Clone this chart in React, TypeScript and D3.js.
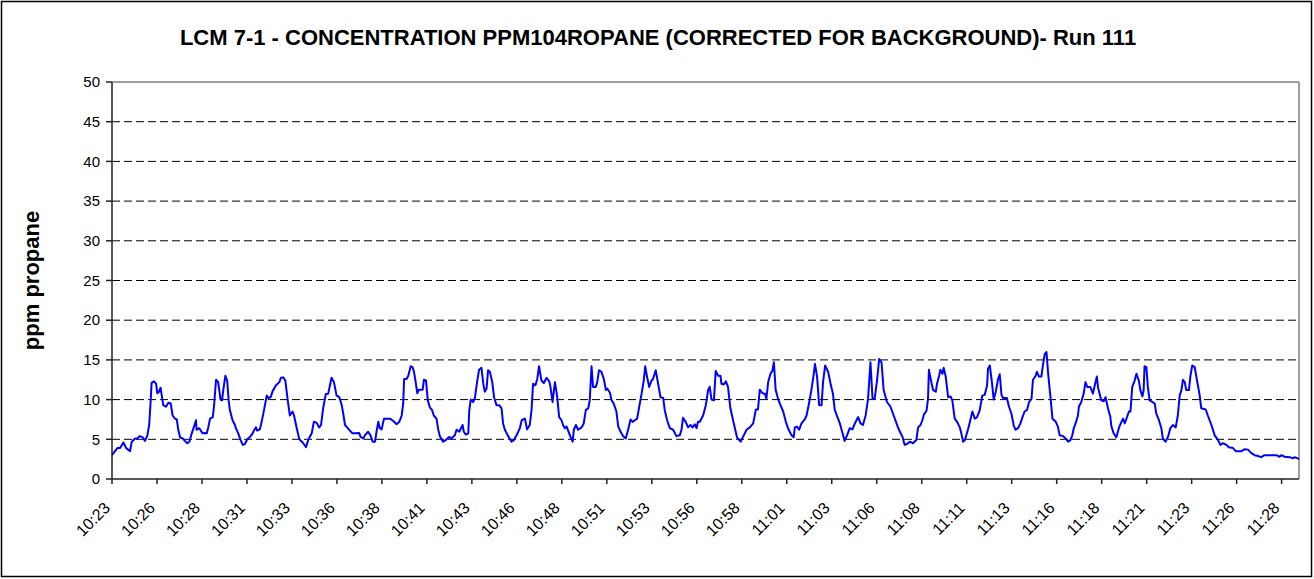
import { useEffect } from "react";
import * as d3 from "d3";

// x axis: one label every 15 samples (10 s sampling), first sample at 10:23:40
const timeLabels = [
  "10:23", "10:26", "10:28", "10:31", "10:33", "10:36", "10:38", "10:41", "10:43",
  "10:46", "10:48", "10:51", "10:53", "10:56", "10:58", "11:01", "11:03", "11:06",
  "11:08", "11:11", "11:13", "11:16", "11:18", "11:21", "11:23", "11:26", "11:28",
];
const labelStepSec = 150;

const yTicks = [0, 5, 10, 15, 20, 25, 30, 35, 40, 45, 50];

// [seconds after 10:23:40, ppm propane]
const readings: [number, number][] = [
  [0, 3.0], [10, 3.5], [18, 3.9], [27, 3.9], [38, 4.6], [47, 3.9], [60, 3.5], [66, 4.7], [77, 5.1], [84, 5.1],
  [93, 5.4], [102, 5.25], [110, 4.8], [118, 5.5], [124, 6.8], [129, 9.9], [132, 12.1], [140, 12.3], [147, 12.0], [151, 10.8],
  [157, 11.0], [162, 11.5], [166, 10.5], [171, 9.3], [180, 9.1], [188, 9.6], [196, 9.5], [202, 8.0], [210, 7.6], [216, 7.5],
  [221, 6.2], [227, 5.25], [236, 5.1], [243, 4.8], [251, 4.5], [258, 4.7], [266, 5.75], [277, 7.0], [280, 7.4], [282, 6.2],
  [291, 6.4], [296, 6.1], [302, 5.75], [310, 5.8], [316, 5.75], [321, 6.5], [327, 7.6], [336, 7.8], [340, 9.1], [347, 12.5],
  [354, 12.2], [362, 10.0], [367, 9.9], [371, 11.2], [378, 13.0], [384, 12.4], [389, 9.9], [393, 8.7], [402, 7.4], [410, 6.8],
  [413, 6.4], [421, 5.75], [429, 4.9], [436, 4.3], [443, 4.4], [451, 5.0], [460, 5.3], [469, 5.75], [473, 6.1], [480, 6.5],
  [484, 6.1], [493, 6.25], [499, 7.2], [507, 8.7], [516, 10.5], [521, 10.2], [529, 10.3], [536, 11.1], [547, 11.8], [558, 12.2],
  [563, 12.75], [571, 12.8], [578, 12.4], [586, 9.9], [593, 8.0], [602, 8.5], [607, 8.0], [616, 6.4], [624, 5.1],
  [627, 4.9], [636, 4.6], [647, 4.0], [654, 4.9], [666, 5.75], [673, 7.2], [682, 7.1], [691, 6.5], [697, 6.8], [704, 8.9],
  [713, 10.7], [721, 10.75], [732, 12.75], [740, 12.2], [749, 10.5], [758, 10.3], [766, 9.3], [771, 8.25], [777, 6.8], [784, 6.5],
  [793, 6.1], [802, 5.75], [813, 5.75], [824, 5.8], [829, 5.3], [838, 5.1], [843, 5.5], [854, 5.95], [862, 5.5], [869, 4.7],
  [877, 4.7], [882, 5.95], [888, 7.2], [893, 6.4], [899, 6.25], [907, 7.6], [918, 7.6], [927, 7.6], [938, 7.3], [949, 6.9],
  [958, 7.2], [966, 8.0], [971, 9.5], [974, 12.6], [982, 12.6], [988, 13.0], [996, 14.2], [1002, 14.1], [1007, 13.5], [1013, 12.1],
  [1018, 10.8], [1023, 11.25], [1036, 11.25], [1040, 12.5], [1047, 12.4], [1053, 9.9], [1060, 9.0], [1067, 8.7], [1073, 8.0], [1082, 7.6],
  [1088, 6.2], [1093, 5.4], [1104, 4.7], [1113, 4.9], [1124, 5.3], [1132, 5.1], [1143, 5.5], [1149, 6.2], [1158, 5.95], [1169, 6.8],
  [1173, 5.95], [1180, 5.6], [1188, 5.75], [1191, 8.5], [1196, 10.0], [1204, 9.7], [1210, 10.2], [1218, 12.4], [1224, 13.75], [1232, 14.0],
  [1238, 12.0], [1243, 11.0], [1249, 11.4], [1254, 13.7], [1260, 13.5], [1268, 12.2], [1274, 10.3], [1282, 9.3], [1291, 9.3],
  [1299, 8.9], [1304, 7.0], [1310, 6.2], [1321, 5.4], [1332, 4.7], [1340, 4.9], [1349, 5.5], [1360, 6.4], [1366, 7.4], [1377, 7.6],
  [1384, 6.25], [1393, 6.8], [1399, 8.7], [1404, 12.0], [1412, 11.8], [1418, 12.6], [1424, 14.2], [1432, 12.4], [1440, 12.1], [1449, 12.75],
  [1458, 12.3], [1462, 11.6], [1469, 9.7], [1477, 12.2], [1484, 10.5], [1491, 7.8], [1499, 7.4], [1504, 6.8], [1510, 6.4], [1516, 6.6],
  [1521, 6.1], [1529, 5.3], [1536, 4.7], [1540, 6.2], [1547, 6.8], [1554, 6.2], [1566, 6.5], [1573, 7.0], [1580, 8.7], [1588, 8.9],
  [1593, 9.9], [1599, 14.2], [1604, 11.6], [1613, 11.6], [1618, 12.2], [1624, 13.7], [1632, 13.5], [1640, 12.6], [1647, 11.2], [1651, 11.4],
  [1660, 10.9], [1666, 9.9], [1673, 9.5], [1682, 8.5], [1688, 6.6], [1696, 5.95], [1704, 5.4], [1713, 5.1], [1721, 6.2], [1729, 7.5],
  [1736, 7.2], [1743, 7.4], [1751, 7.6], [1758, 9.1], [1766, 10.75], [1773, 12.4], [1778, 14.2], [1784, 12.9], [1791, 11.6], [1799, 12.4],
  [1804, 12.6], [1813, 13.7], [1821, 12.0], [1829, 10.3], [1838, 10.2], [1843, 8.7], [1851, 7.4], [1860, 6.4], [1871, 6.2], [1882, 5.4],
  [1893, 5.5], [1899, 6.2], [1904, 7.7], [1913, 7.2], [1921, 6.5], [1929, 6.8], [1936, 6.5], [1943, 6.9], [1949, 6.4], [1954, 7.2],
  [1960, 7.2], [1971, 8.0], [1980, 9.3], [1988, 11.25], [1993, 11.6], [1999, 10.0], [2007, 9.9], [2013, 13.6], [2021, 13.0], [2029, 13.0],
  [2032, 12.0], [2040, 11.9], [2047, 12.3], [2054, 11.6], [2062, 8.9], [2071, 7.4], [2077, 6.4], [2084, 5.25], [2096, 4.7], [2104, 5.3],
  [2116, 6.2], [2127, 6.5], [2138, 7.0], [2147, 8.75], [2154, 8.75], [2160, 11.25], [2169, 10.8], [2177, 10.75], [2182, 10.1], [2188, 12.2],
  [2196, 13.3], [2202, 13.6], [2207, 14.7], [2213, 11.2], [2221, 10.1], [2229, 9.3], [2238, 8.5], [2247, 7.2], [2254, 6.4], [2266, 5.5],
  [2273, 5.25], [2277, 6.5], [2284, 6.6], [2291, 6.2], [2299, 7.0], [2310, 7.5], [2316, 8.0], [2324, 9.5], [2332, 11.2], [2340, 13.25],
  [2344, 14.5], [2351, 12.9], [2358, 9.3], [2366, 9.3], [2371, 12.2], [2378, 14.3], [2388, 13.5], [2396, 12.0], [2404, 10.75], [2410, 8.7],
  [2418, 7.9], [2427, 7.0], [2436, 5.75], [2443, 4.8], [2451, 5.5], [2460, 6.4], [2469, 6.25], [2477, 7.0], [2488, 7.8], [2496, 7.0],
  [2504, 6.8], [2513, 8.0], [2521, 10.1], [2529, 14.7], [2536, 10.1], [2543, 10.1], [2551, 12.4], [2558, 15.1], [2566, 14.7], [2573, 11.2],
  [2584, 9.7], [2596, 9.1], [2604, 8.25], [2616, 7.0], [2624, 6.2],
  [2636, 5.3], [2643, 4.3], [2651, 4.4], [2660, 4.7], [2671, 4.5], [2682, 4.9], [2688, 6.5], [2696, 6.8], [2702, 7.4], [2707, 8.1],
  [2716, 8.6], [2721, 10.1], [2724, 13.75], [2732, 12.2], [2738, 11.2], [2747, 11.0], [2751, 12.0], [2758, 13.0], [2762, 13.75], [2769, 13.25],
  [2773, 14.0], [2780, 12.9], [2788, 10.3], [2796, 10.4], [2802, 9.9], [2810, 7.6], [2818, 7.2], [2827, 6.5], [2832, 5.75], [2838, 4.7],
  [2844, 4.9], [2854, 6.2], [2862, 7.4], [2869, 8.5], [2877, 7.6], [2884, 7.75], [2893, 8.6], [2902, 10.5], [2910, 10.6], [2918, 11.8],
  [2921, 13.9], [2927, 14.3], [2934, 12.2], [2940, 10.0], [2947, 11.0], [2954, 12.5], [2960, 13.2], [2966, 10.6], [2971, 10.2], [2984, 10.2],
  [2991, 9.1], [2999, 8.25], [3007, 6.7], [3013, 6.2], [3021, 6.4], [3029, 7.0], [3036, 7.8], [3043, 8.5], [3051, 8.7], [3058, 9.7],
  [3066, 10.1], [3071, 12.5], [3080, 13.0], [3084, 13.5], [3091, 12.9], [3099, 12.9], [3104, 14.3], [3110, 15.7], [3116, 16.0], [3121, 13.5],
  [3129, 10.4], [3136, 7.6], [3147, 7.2], [3154, 6.6], [3160, 5.5], [3171, 5.4], [3180, 5.1], [3188, 4.7], [3196, 4.9], [3202, 5.5],
  [3207, 6.4], [3213, 7.0], [3221, 8.0], [3224, 9.1], [3232, 9.7], [3240, 10.75], [3246, 12.2], [3252, 11.6], [3262, 11.6], [3271, 10.75],
  [3277, 11.8], [3284, 12.9], [3288, 11.5],
  [3299, 9.9], [3307, 9.8], [3313, 10.3], [3321, 8.9], [3329, 7.8], [3332, 6.7], [3340, 5.75], [3349, 5.25], [3358, 6.5], [3366, 7.2],
  [3371, 7.6], [3377, 7.0], [3384, 7.75], [3391, 8.5], [3396, 8.5], [3402, 11.6], [3410, 12.4], [3416, 13.25], [3424, 12.4], [3429, 11.2],
  [3436, 10.4], [3440, 11.2], [3443, 14.2], [3449, 14.1], [3454, 11.6], [3460, 9.9], [3469, 9.7], [3477, 9.5], [3482, 8.25], [3491, 7.4],
  [3499, 6.4], [3504, 5.1], [3513, 4.7], [3521, 5.3], [3529, 6.4], [3538, 6.8], [3547, 6.5], [3554, 8.0], [3560, 10.5], [3566, 11.2],
  [3571, 12.5], [3577, 12.2], [3582, 11.2], [3591, 11.2], [3596, 13.0], [3602, 14.3], [3610, 14.1], [3618, 12.4], [3627, 10.5], [3632, 8.9],
  [3647, 8.75], [3654, 8.0], [3666, 6.8], [3677, 5.5], [3688, 4.9], [3696, 4.3], [3704, 4.5], [3716, 4.3], [3724, 4.0], [3738, 3.9],
  [3747, 3.5], [3766, 3.5], [3777, 3.75], [3788, 3.7], [3799, 3.25], [3810, 3.0], [3821, 2.9], [3832, 2.75], [3843, 3.0], [3860, 3.0],
  [3882, 3.0], [3893, 2.8], [3899, 3.0], [3910, 2.8], [3927, 2.75], [3938, 2.6], [3943, 2.75], [3954, 2.6], [3958, 2.5],
];

const title = "LCM 7-1 - CONCENTRATION PPM104ROPANE (CORRECTED FOR BACKGROUND)- Run 111";
const yTitle = "ppm propane";

const width = 1314;
const height = 579;
const plot = { left: 112, right: 1299, top: 82, bottom: 479 };
const font = "'Liberation Sans', Arial, sans-serif";

export default function App() {
  useEffect(() => {
    document.body.style.margin = "0";
  }, []);

  const x = d3
    .scaleLinear()
    .domain([0, readings[readings.length - 1][0]])
    .range([plot.left, plot.right]);

  const y = d3.scaleLinear().domain([0, 50]).range([plot.bottom, plot.top]);

  const line = d3
    .line<[number, number]>()
    .x((d) => x(d[0]))
    .y((d) => y(d[1]));

  return (
    <svg width={width} height={height} style={{ display: "block", background: "#fff" }} fontFamily={font}>
      <rect x={1.5} y={1.5} width={width - 4} height={height - 4} fill="#fff" stroke="#000" strokeWidth={1.5} />

      <text x={658} y={45} textAnchor="middle" fontSize={22} fontWeight="bold" fill="#000">
        {title}
      </text>

      {/* grid */}
      {yTicks
        .filter((t) => t > 0 && t < 50)
        .map((t) => (
          <line
            key={"g" + t}
            x1={plot.left}
            x2={plot.right}
            y1={y(t)}
            y2={y(t)}
            stroke="#000"
            strokeWidth={1}
            strokeDasharray="8,4"
          />
        ))}

      {/* plot frame */}
      <line x1={plot.left} x2={plot.right} y1={plot.top} y2={plot.top} stroke="#808080" strokeWidth={1.5} />
      <line x1={plot.right} x2={plot.right} y1={plot.top} y2={plot.bottom} stroke="#808080" strokeWidth={1.5} />

      <path d={line(readings) || ""} fill="none" stroke="#0000ff" strokeWidth={2} strokeLinejoin="round" />

      {/* y axis */}
      <line x1={plot.left} x2={plot.left} y1={plot.top} y2={plot.bottom} stroke="#222" strokeWidth={1.5} />
      {yTicks.map((t) => (
        <g key={"y" + t}>
          <line x1={plot.left - 6} x2={plot.left} y1={y(t)} y2={y(t)} stroke="#222" strokeWidth={1.5} />
          <text x={100} y={y(t)} dy="0.35em" textAnchor="end" fontSize={15} fill="#000">
            {t}
          </text>
        </g>
      ))}
      <text
        transform={`translate(39, ${(plot.top + plot.bottom) / 2}) rotate(-90)`}
        textAnchor="middle"
        fontSize={22}
        fontWeight="bold"
        fill="#000"
      >
        {yTitle}
      </text>

      {/* x axis */}
      <line x1={plot.left} x2={plot.right} y1={plot.bottom} y2={plot.bottom} stroke="#222" strokeWidth={1.5} />
      {timeLabels.map((lab, i) => {
        const tx = x(i * labelStepSec);
        return (
          <g key={"x" + i}>
            <line x1={tx} x2={tx} y1={plot.bottom} y2={plot.bottom + 5} stroke="#222" strokeWidth={1.5} />
            <text
              transform={`translate(${tx - 1}, 509) rotate(-45)`}
              textAnchor="end"
              fontSize={16}
              fill="#000"
            >
              {lab}
            </text>
          </g>
        );
      })}
    </svg>
  );
}
